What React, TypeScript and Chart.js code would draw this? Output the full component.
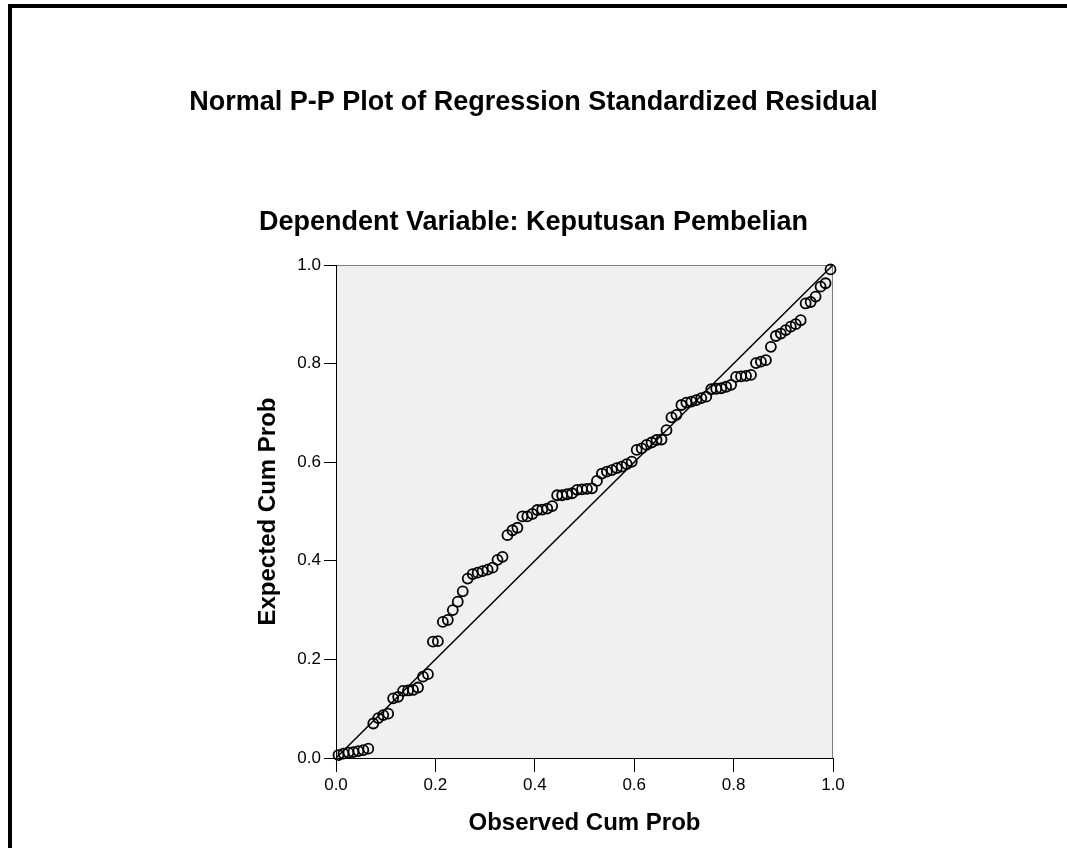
import React, { useEffect, useRef } from "react";
import { Chart, registerables } from "chart.js";

Chart.register(...registerables);

const TITLE = "Normal P-P Plot of Regression Standardized Residual";
const SUBTITLE = "Dependent Variable: Keputusan Pembelian";
const X_TITLE = "Observed Cum Prob";
const Y_TITLE = "Expected Cum Prob";
const TICKS = [0.0, 0.2, 0.4, 0.6, 0.8, 1.0];

const OBSERVED = [
  0.005, 0.015, 0.025, 0.035, 0.045, 0.055, 0.065, 0.075, 0.085, 0.095,
  0.105, 0.115, 0.125, 0.135, 0.145, 0.155, 0.165, 0.175, 0.185, 0.195,
  0.205, 0.215, 0.225, 0.235, 0.245, 0.255, 0.265, 0.275, 0.285, 0.295,
  0.305, 0.315, 0.325, 0.335, 0.345, 0.355, 0.365, 0.375, 0.385, 0.395,
  0.405, 0.415, 0.425, 0.435, 0.445, 0.455, 0.465, 0.475, 0.485, 0.495,
  0.505, 0.515, 0.525, 0.535, 0.545, 0.555, 0.565, 0.575, 0.585, 0.595,
  0.605, 0.615, 0.625, 0.635, 0.645, 0.655, 0.665, 0.675, 0.685, 0.695,
  0.705, 0.715, 0.725, 0.735, 0.745, 0.755, 0.765, 0.775, 0.785, 0.795,
  0.805, 0.815, 0.825, 0.835, 0.845, 0.855, 0.865, 0.875, 0.885, 0.895,
  0.905, 0.915, 0.925, 0.935, 0.945, 0.955, 0.965, 0.975, 0.985, 0.995,
];

const EXPECTED = [
  0.006, 0.009, 0.011, 0.012, 0.014, 0.016, 0.019, 0.070, 0.081, 0.087,
  0.090, 0.121, 0.124, 0.136, 0.137, 0.138, 0.143, 0.165, 0.170, 0.236,
  0.237, 0.276, 0.280, 0.300, 0.317, 0.338, 0.364, 0.373, 0.376, 0.379,
  0.382, 0.386, 0.402, 0.408, 0.452, 0.462, 0.467, 0.490, 0.490, 0.495,
  0.503, 0.504, 0.506, 0.511, 0.533, 0.533, 0.535, 0.537, 0.544, 0.545,
  0.546, 0.547, 0.562, 0.577, 0.581, 0.584, 0.588, 0.591, 0.596, 0.601,
  0.625, 0.628, 0.635, 0.640, 0.645, 0.646, 0.665, 0.691, 0.696, 0.716,
  0.721, 0.723, 0.726, 0.730, 0.733, 0.748, 0.749, 0.750, 0.753, 0.757,
  0.773, 0.774, 0.775, 0.777, 0.801, 0.804, 0.807, 0.834, 0.856, 0.861,
  0.868, 0.875, 0.880, 0.888, 0.922, 0.925, 0.936, 0.956, 0.963, 0.991,
];

const DIAGONAL_X = [0, 1];
const DIAGONAL_Y = [0, 1];

const FONT = "'Liberation Sans', Arial, Helvetica, sans-serif";

const framePlugin = {
  id: "ppFrame",
  beforeDraw(chart: any) {
    const { ctx, chartArea: a } = chart;
    ctx.save();
    ctx.fillStyle = "#000";
    ctx.fillRect(8, 4, 4, 844);
    ctx.fillRect(8, 4, 1059, 4);
    ctx.fillStyle = "#f0f0f0";
    ctx.fillRect(a.left, a.top, a.right - a.left, a.bottom - a.top);
    ctx.strokeStyle = "#808080";
    ctx.lineWidth = 1;
    ctx.beginPath();
    ctx.moveTo(a.left, a.top + 0.5);
    ctx.lineTo(a.right - 0.5, a.top + 0.5);
    ctx.lineTo(a.right - 0.5, a.bottom);
    ctx.stroke();
    ctx.restore();
  },
};

export default function App() {
  const canvasRef = useRef<HTMLCanvasElement | null>(null);

  useEffect(() => {
    if (!canvasRef.current) return;
    const points = OBSERVED.map((x, i) => ({ x, y: EXPECTED[i] }));
    const diagonal = DIAGONAL_X.map((x, i) => ({ x, y: DIAGONAL_Y[i] }));
    const tickFont = { family: FONT, size: 17 };
    const chart = new Chart(canvasRef.current, {
      type: "scatter",
      data: {
        datasets: [
          {
            type: "line",
            data: diagonal,
            borderColor: "#000",
            borderWidth: 1.5,
            pointRadius: 0,
            fill: false,
          } as any,
          {
            type: "scatter",
            data: points,
            pointRadius: 5,
            pointBorderWidth: 1.8,
            pointBorderColor: "#000",
            pointBackgroundColor: "rgba(0,0,0,0)",
            clip: false,
          } as any,
        ],
      },
      options: {
        animation: false,
        responsive: false,
        devicePixelRatio: 1,
        layout: { padding: 0 },
        plugins: {
          legend: { display: false },
          tooltip: { enabled: false },
          title: {
            display: true,
            text: TITLE,
            color: "#000",
            font: { family: FONT, size: 27, weight: "bold" },
            padding: { top: 86.8, bottom: 0 },
          },
          subtitle: {
            display: true,
            text: SUBTITLE,
            color: "#000",
            font: { family: FONT, size: 27, weight: "bold" },
            padding: { top: 87.6, bottom: 25.8 },
          },
        },
        scales: {
          x: {
            type: "linear",
            position: "bottom",
            min: 0,
            max: 1,
            afterBuildTicks: (s: any) => {
              s.ticks = TICKS.map((v) => ({ value: v }));
            },
            afterFit: (s: any) => {
              s.height = 90;
            },
            ticks: {
              color: "#000",
              font: tickFont,
              padding: 3,
              maxRotation: 0,
              callback: (v: any) => Number(v).toFixed(1),
            },
            grid: {
              drawOnChartArea: false,
              drawTicks: true,
              tickLength: 14,
              color: "#000",
              tickColor: "#000",
              lineWidth: 1,
            },
            border: { display: true, color: "#000", width: 1 },
            title: {
              display: true,
              text: X_TITLE,
              color: "#000",
              font: { family: FONT, size: 24, weight: "bold" },
              padding: { top: 0, bottom: 10.6 },
            },
          },
          y: {
            type: "linear",
            position: "left",
            min: 0,
            max: 1,
            afterBuildTicks: (s: any) => {
              s.ticks = TICKS.map((v) => ({ value: v }));
            },
            afterFit: (s: any) => {
              s.width = 336;
            },
            ticks: {
              color: "#000",
              font: tickFont,
              padding: 3,
              callback: (v: any) => Number(v).toFixed(1),
            },
            grid: {
              drawOnChartArea: false,
              drawTicks: true,
              tickLength: 12,
              color: "#000",
              tickColor: "#000",
              lineWidth: 1,
            },
            border: { display: true, color: "#000", width: 1 },
            title: {
              display: true,
              text: Y_TITLE,
              color: "#000",
              font: { family: FONT, size: 24, weight: "bold" },
              padding: { top: 253.6, bottom: 0 },
            },
          },
          yRight: {
            type: "linear",
            position: "right",
            min: 0,
            max: 1,
            display: true,
            afterFit: (s: any) => {
              s.width = 234;
            },
            ticks: { display: false },
            grid: { display: false, drawTicks: false },
            border: { display: false },
            title: { display: false },
          },
        },
      } as any,
      plugins: [framePlugin],
    });
    return () => chart.destroy();
  }, []);

  return (
    <div style={{ position: "absolute", left: 0, top: 0, width: 1067, height: 848, background: "#fff" }}>
      <canvas ref={canvasRef} width={1067} height={848} style={{ display: "block", width: 1067, height: 848 }} />
    </div>
  );
}
